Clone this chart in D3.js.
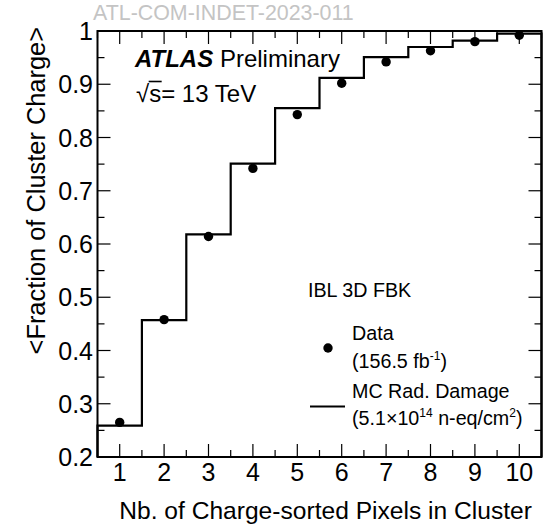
<!DOCTYPE html>
<html>
<head>
<meta charset="utf-8">
<script src="https://cdn.jsdelivr.net/npm/d3@7/dist/d3.min.js"></script>
<style>
  html, body { margin: 0; padding: 0; background: #fff; }
  svg { display: block; font-family: "Liberation Sans", Arial, Helvetica, sans-serif; }
</style>
</head>
<body>
<svg id="chart" width="556" height="531"></svg>
<script>
// ---- data ----
const pixels = [1, 2, 3, 4, 5, 6, 7, 8, 9, 10];
const mcValues = [0.259, 0.457, 0.618, 0.751, 0.855, 0.912, 0.951, 0.970, 0.982, 0.995];
const dataValues = [0.265, 0.458, 0.614, 0.742, 0.843, 0.902, 0.942, 0.963, 0.980, 0.992];
const xTickLabels = ["1", "2", "3", "4", "5", "6", "7", "8", "9", "10"];
const yTickValues = [0.2, 0.3, 0.4, 0.5, 0.6, 0.7, 0.8, 0.9, 1];
const yTickLabels = ["0.2", "0.3", "0.4", "0.5", "0.6", "0.7", "0.8", "0.9", "1"];

const W = 556, H = 531;
const L = 97.5, R = 541.5, T = 31, B = 457;
const svg = d3.select("#chart");
svg.append("rect").attr("width", W).attr("height", H).attr("fill", "#fff");

const x = d3.scaleLinear().domain([0.5, 10.5]).range([L, R]);
const y = d3.scaleLinear().domain([0.2, 1.0]).range([B, T]);

// ---- ticks ----
const xMajor = pixels;
const xMinor = d3.range(0.5, 10.51, 0.5).filter(v => !Number.isInteger(v));
const yMajor = yTickValues;
const yMinor = d3.range(0.25, 1.0, 0.1);
const maj = 13, mnr = 7;
const tk = svg.append("g").attr("stroke", "#000").attr("stroke-width", 1.2);
xMajor.forEach(v => {
  tk.append("line").attr("x1", x(v)).attr("x2", x(v)).attr("y1", B).attr("y2", B - maj);
  tk.append("line").attr("x1", x(v)).attr("x2", x(v)).attr("y1", T).attr("y2", T + maj);
});
xMinor.forEach(v => {
  tk.append("line").attr("x1", x(v)).attr("x2", x(v)).attr("y1", B).attr("y2", B - mnr);
  tk.append("line").attr("x1", x(v)).attr("x2", x(v)).attr("y1", T).attr("y2", T + mnr);
});
yMajor.forEach(v => {
  tk.append("line").attr("x1", L).attr("x2", L + maj).attr("y1", y(v)).attr("y2", y(v));
  tk.append("line").attr("x1", R).attr("x2", R - maj).attr("y1", y(v)).attr("y2", y(v));
});
yMinor.forEach(v => {
  tk.append("line").attr("x1", L).attr("x2", L + mnr).attr("y1", y(v)).attr("y2", y(v));
  tk.append("line").attr("x1", R).attr("x2", R - mnr).attr("y1", y(v)).attr("y2", y(v));
});

// ---- MC histogram (step) ----
const pts = [[0.5, 0.2]];
pixels.forEach((p, i) => {
  pts.push([p - 0.5, mcValues[i]]);
  pts.push([p + 0.5, mcValues[i]]);
});
pts.push([10.5, 0.2]);
svg.append("path")
  .attr("d", d3.line().x(d => x(d[0])).y(d => y(d[1]))(pts))
  .attr("fill", "none").attr("stroke", "#000").attr("stroke-width", 2.2);

// ---- data points ----
svg.append("g").selectAll("circle").data(pixels).join("circle")
  .attr("cx", d => x(d)).attr("cy", (d, i) => y(dataValues[i]))
  .attr("r", 4.7).attr("fill", "#000");

// ---- frame ----
svg.append("rect").attr("x", L).attr("y", T).attr("width", R - L).attr("height", B - T)
  .attr("fill", "none").attr("stroke", "#000").attr("stroke-width", 2);

// ---- tick labels ----
svg.append("g").selectAll("text").data(xMajor).join("text")
  .attr("x", d => x(d)).attr("y", 481).attr("text-anchor", "middle")
  .attr("font-size", 25).text((d, i) => xTickLabels[i]);
svg.append("g").selectAll("text").data(yMajor).join("text")
  .attr("x", 93).attr("y", d => y(d) + 9).attr("text-anchor", "end")
  .attr("font-size", 25).text((d, i) => yTickLabels[i]);

// ---- axis titles ----
svg.append("text").attr("x", 532).attr("y", 519).attr("text-anchor", "end")
  .attr("font-size", 24.6).text("Nb. of Charge-sorted Pixels in Cluster");
svg.append("text").attr("transform", "translate(45,27) rotate(-90)")
  .attr("text-anchor", "end").attr("font-size", 25.4).text("<Fraction of Cluster Charge>");

// ---- watermark ----
svg.append("text").attr("x", 93).attr("y", 20).attr("font-size", 21.4)
  .attr("fill", "#c4c4c4").text("ATL-COM-INDET-2023-011");

// ---- ATLAS label ----
const at = svg.append("text").attr("x", 135).attr("y", 67).attr("font-size", 24);
at.append("tspan").attr("font-weight", "bold").attr("font-style", "italic").text("ATLAS");
at.append("tspan").text(" Preliminary");
const rs = svg.append("text").attr("x", 136).attr("y", 102).attr("font-size", 24).text("\u221As= 13 TeV");
try {
  const n = rs.node();
  const s0 = n.getStartPositionOfChar(1).x, s1 = n.getEndPositionOfChar(1).x;
  svg.append("line").attr("x1", s0 - 0.5).attr("x2", s1 + 0.5).attr("y1", 81.5).attr("y2", 81.5)
    .attr("stroke", "#000").attr("stroke-width", 1.6);
} catch (e) {}

// ---- legend ----
const lf = 19.7;
svg.append("text").attr("x", 308).attr("y", 297).attr("font-size", lf).text("IBL 3D FBK");
svg.append("circle").attr("cx", 328).attr("cy", 348).attr("r", 4.7).attr("fill", "#000");
svg.append("text").attr("x", 352).attr("y", 340).attr("font-size", lf).text("Data");
const t2 = svg.append("text").attr("x", 352).attr("y", 368).attr("font-size", lf);
t2.append("tspan").text("(156.5 fb");
t2.append("tspan").attr("font-size", 12).attr("dy", -8).text("-1");
t2.append("tspan").attr("dy", 8).text(")");
svg.append("line").attr("x1", 310).attr("x2", 345).attr("y1", 406.5).attr("y2", 406.5)
  .attr("stroke", "#000").attr("stroke-width", 2);
svg.append("text").attr("x", 352).attr("y", 398).attr("font-size", lf).text("MC Rad. Damage");
const t4 = svg.append("text").attr("x", 352).attr("y", 425).attr("font-size", lf);
t4.append("tspan").text("(5.1\u00D710");
t4.append("tspan").attr("font-size", 12).attr("dy", -8).text("14");
t4.append("tspan").attr("dy", 8).text(" n-eq/cm");
t4.append("tspan").attr("font-size", 12).attr("dy", -8).text("2");
t4.append("tspan").attr("dy", 8).text(")");
</script>
</body>
</html>
